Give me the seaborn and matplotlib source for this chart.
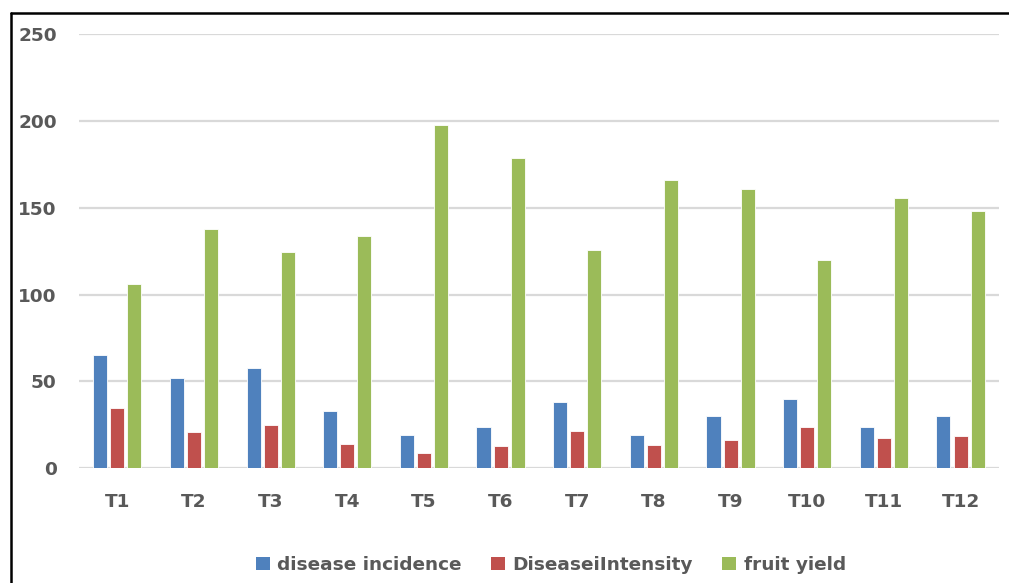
import pandas as pd
import numpy as np
import matplotlib.pyplot as plt
import seaborn as sns
from matplotlib.lines import Line2D
from matplotlib.patches import Patch

# values
treatments = ['T1', 'T2', 'T3', 'T4', 'T5', 'T6', 'T7', 'T8', 'T9', 'T10', 'T11', 'T12']
disease_incidence = [65, 52, 58, 33, 19, 24, 38, 19, 30, 40, 24, 30]
disease_intensity = [34.5, 21, 25, 14, 8.6, 12.6, 21.3, 13.2, 16.4, 23.6, 17.2, 18.7]
fruit_yield = [106, 137.5, 124.5, 134, 197.5, 178.5, 125.8, 166, 160.5, 120, 155.5, 148]

series_names = ['disease incidence', 'DiseaseiIntensity', 'fruit yield']
colors = ['#4F81BD', '#C0504D', '#9BBB59']

df = pd.DataFrame({'treatment': treatments,
                   series_names[0]: disease_incidence,
                   series_names[1]: disease_intensity,
                   series_names[2]: fruit_yield})
df_long = df.melt(id_vars='treatment', var_name='series', value_name='value')

sns.set_style('white')
plt.rcParams['font.family'] = ['DejaVu Sans']

fig = plt.figure(figsize=(10.09, 5.83), dpi=100)
ax = fig.add_axes([0.0783, 0.1967, 0.9117, 0.745])

sns.barplot(data=df_long, x='treatment', y='value', hue='series',
            hue_order=series_names, palette=colors, order=treatments,
            width=0.67, gap=0.18, edgecolor='white', linewidth=0.6,
            saturation=1, legend=False, ax=ax)

ax.set_ylim(0, 250)
ax.set_yticks([0, 50, 100, 150, 200, 250])
ax.set_xlim(-0.5, 11.5)
ax.yaxis.grid(True, color='#d9d9d9', linewidth=1.6)
ax.set_axisbelow(True)
for s in ax.spines.values():
    s.set_visible(False)
ax.set_xlabel('')
ax.set_ylabel('')
ax.tick_params(axis='y', length=0, pad=16, labelsize=13.3, labelcolor='#595959')
ax.tick_params(axis='x', length=0, pad=18, labelsize=13.3, labelcolor='#595959')
for lab in ax.get_xticklabels() + ax.get_yticklabels():
    lab.set_fontweight('bold')

# legend under the plot
handles = [Patch(facecolor=c, edgecolor='none') for c in colors]
fig.legend(handles, series_names, loc='center', bbox_to_anchor=(0.546, 0.031),
           ncol=3, frameon=False, handlelength=0.75, handleheight=0.75,
           handletextpad=0.4, columnspacing=1.6,
           prop={'size': 13.3, 'weight': 'bold'}, labelcolor='#595959')

# cropped chart border (left and top edges)
fig.add_artist(Line2D([0.0105, 0.0105], [0, 0.978], color='black', lw=1.8,
                      transform=fig.transFigure))
fig.add_artist(Line2D([0.0105, 1.0], [0.978, 0.978], color='black', lw=1.8,
                      transform=fig.transFigure))

fig.savefig('out.png', dpi=100)
